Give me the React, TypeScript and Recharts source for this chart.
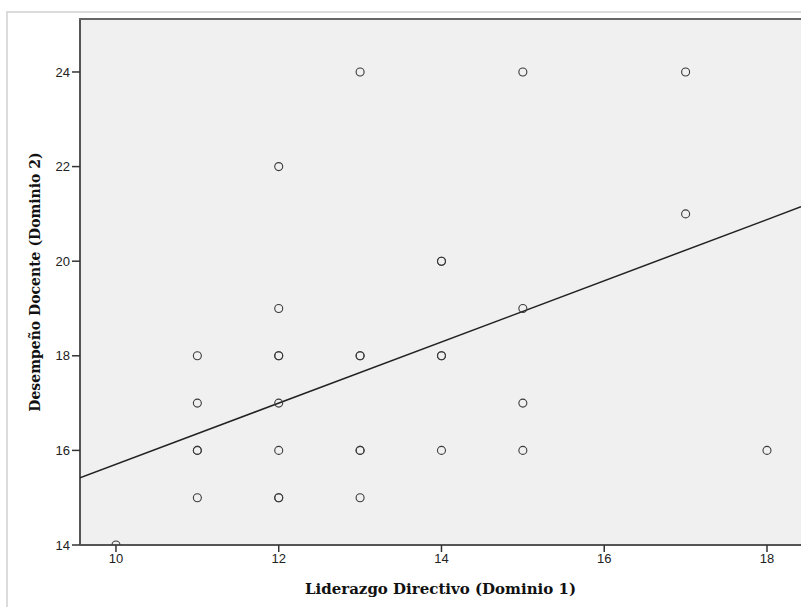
import React from "react";
import { ScatterChart, Scatter, XAxis, YAxis, CartesianGrid } from "recharts";

const liderazgo = [10, 11, 11, 11, 11, 11, 12, 12, 12, 12, 12, 12, 12, 12, 13, 13, 13, 13, 13, 13, 14, 14, 14, 14, 14, 15, 15, 15, 15, 17, 17, 18];
const desempeno = [14, 15, 16, 16, 17, 18, 15, 15, 16, 17, 18, 18, 19, 22, 15, 16, 16, 18, 18, 24, 16, 18, 18, 20, 20, 16, 17, 19, 24, 21, 24, 16];
const fitX = [9.558, 18.418];
const fitY = [15.42, 21.15];
const xTicks = [10, 12, 14, 16, 18];
const yTicks = [14, 16, 18, 20, 22, 24];

const points = liderazgo.map((x, i) => ({ x, y: desempeno[i] }));
const fitLine = fitX.map((x, i) => ({ x, y: fitY[i] }));

const Ring = (props: any) => {
  const { cx, cy } = props;
  if (cx == null || cy == null) return null;
  return <circle cx={cx} cy={cy} r={4} fill="none" stroke="#3a3a3a" strokeWidth={1.1} />;
};

const tickStyle = { fontFamily: "'Liberation Sans', Arial, sans-serif", fontSize: 13, fill: "#222" };
const labelStyle = { fontFamily: "'DejaVu Serif', serif", fontWeight: "bold", fontSize: 15, fill: "#111" };

export default function App() {
  return (
    <div style={{ position: "absolute", left: 0, top: 0, width: 801, height: 607, overflow: "hidden", background: "#fff" }}>
      <div style={{ position: "absolute", left: 6, top: 11, width: 900, height: 700, border: "2px solid #dcdcdc", boxSizing: "border-box" }} />
      <div style={{ position: "absolute", left: 0, top: 0 }}>
        <ScatterChart width={801} height={607} margin={{ top: 19, right: 0, bottom: 0, left: 0 }}>
          <CartesianGrid horizontal={false} vertical={false} fill="#f0f0f0" />
          <XAxis
            type="number"
            dataKey="x"
            domain={[9.558, 18.418]}
            ticks={xTicks}
            allowDataOverflow
            height={62}
            axisLine={{ stroke: "#555", strokeWidth: 2 }}
            tickLine={{ stroke: "#333", strokeWidth: 1.5 }}
            tickSize={7}
            tick={tickStyle}
            label={{ value: "Liderazgo Directivo (Dominio 1)", position: "insideBottom", offset: 13, style: labelStyle }}
          />
          <YAxis
            type="number"
            dataKey="y"
            domain={[14, 25.12]}
            ticks={yTicks}
            allowDataOverflow
            width={80}
            axisLine={{ stroke: "#555", strokeWidth: 2 }}
            tickLine={{ stroke: "#333", strokeWidth: 1.5 }}
            tickSize={8}
            tick={tickStyle}
            label={{ value: "Desempeño Docente (Dominio 2)", angle: -90, position: "insideLeft", offset: 35, style: { ...labelStyle, fontSize: 14, textAnchor: "middle" } }}
          />
          <Scatter data={fitLine} line={{ stroke: "#222", strokeWidth: 1.5 }} shape={() => null} isAnimationActive={false} />
          <Scatter data={points} shape={Ring} isAnimationActive={false} />
        </ScatterChart>
      </div>
      <div style={{ position: "absolute", left: 79, top: 18, width: 730, height: 2, background: "#666" }} />
    </div>
  );
}
